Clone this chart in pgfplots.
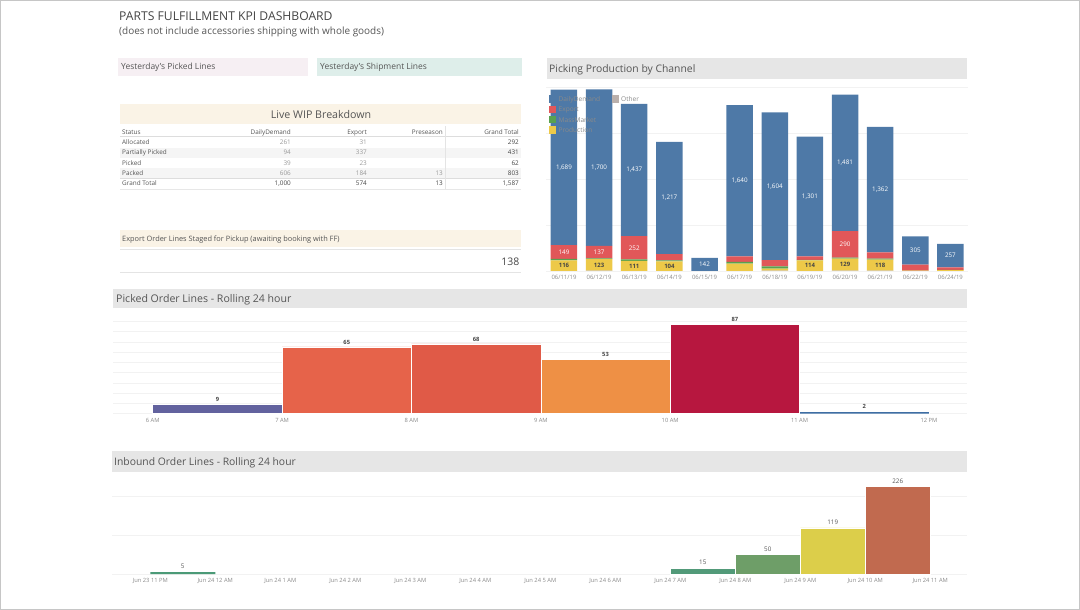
\documentclass[border=0pt]{standalone}
\usepackage{pgfplots}
\pgfplotsset{compat=1.18}
\usepackage{fontspec}
\setmainfont{Open Sans}
\definecolor{tabblue}{HTML}{4E79A7}
\definecolor{tabred}{HTML}{E15759}
\definecolor{tabgreen}{HTML}{59A14F}
\definecolor{tabyellow}{HTML}{EDC948}
\definecolor{tabgray}{HTML}{BAB0AC}
\definecolor{hdrgray}{HTML}{E6E6E6}
\definecolor{pinkbox}{HTML}{F6EFF3}
\definecolor{tealbox}{HTML}{DEEEEA}
\definecolor{beige}{HTML}{FAF3E6}
\definecolor{txtdark}{HTML}{444444}
\definecolor{txtmid}{HTML}{555555}
\definecolor{txtlight}{HTML}{999999}
\definecolor{ticktxt}{HTML}{8A8A8A}
\definecolor{gridc}{HTML}{F2F2F2}
\definecolor{rowgray}{HTML}{F5F5F5}
\definecolor{lineg}{HTML}{DDDDDD}
\definecolor{pA}{HTML}{62629E}
\definecolor{pB}{HTML}{E6634A}
\definecolor{pC}{HTML}{E05A47}
\definecolor{pD}{HTML}{EE9045}
\definecolor{pE}{HTML}{B7173F}
\definecolor{pF}{HTML}{3E6EA4}
\definecolor{iA}{HTML}{4B9A77}
\definecolor{iB}{HTML}{529A79}
\definecolor{iC}{HTML}{6E9E68}
\definecolor{iD}{HTML}{DCCE4A}
\definecolor{iE}{HTML}{C16A4F}
\newcommand\fs[1]{\fontsize{#1}{#1}\selectfont}
\tikzset{
  lw/.style={font=\fs{6.3}, text=white, inner sep=0},
  ly/.style={font=\bfseries\fs{6}, text=txtdark, inner sep=0},
  lp/.style={font=\bfseries\fs{5.8}, text=txtdark, inner sep=0, anchor=south, yshift=2.5bp},
  li/.style={font=\fs{6.3}, text=txtmid, inner sep=0, anchor=south, yshift=3bp},
  tb/.style={inner sep=0, font=\fs{6.4}},
}
\pgfplotsset{
  dash/.style={scale only axis, clip=false,
    axis line style={draw=none}, tick style={draw=none},
    major tick length=0pt, yticklabels={},
    ymajorgrids, grid style={draw=gridc, line width=0.5bp},
    xticklabel style={font=\fs{5.8}, text=ticktxt, yshift=-1.2bp}},
  pick/.style={at={(546.4bp,339bp)}, anchor=south west,
    width=421.6bp, height=188.8bp, scale only axis, clip=false,
    xmin=-0.5, xmax=11.5, ymin=0, ymax=2050}
}
\begin{document}
\begin{tikzpicture}
\path[use as bounding box] (0,0) rectangle (1080bp,610bp);
\begin{scope}[shift={(0,610bp)}, x=1bp, y=-1bp]
\draw[gray!45, line width=1bp] (0.5,0.5) rectangle (1079.5,609.5);
% titles
\node[anchor=base west, inner sep=0, text=txtdark, font=\fs{12.2}] at (119,20.3) {PARTS FULFILLMENT KPI DASHBOARD};
\node[anchor=base west, inner sep=0, text=txtmid, font=\fs{10}] at (119,35) {(does not include accessories shipping with whole goods)};
% yesterday boxes
\fill[pinkbox] (118,58) rectangle (308,76);
\fill[tealbox] (317,58) rectangle (522,76);
\node[anchor=base west, inner sep=0, text=txtmid, font=\fs{8.5}] at (121,70) {Yesterday’s Picked Lines};
\node[anchor=base west, inner sep=0, text=txtmid, font=\fs{8.5}] at (320,70) {Yesterday’s Shipment Lines};
% WIP table
\fill[beige] (120,104) rectangle (521,124);
\node[anchor=base, inner sep=0, text=txtmid, font=\fs{10.7}] at (321,119) {Live WIP Breakdown};
\fill[rowgray] (120,147.6) rectangle (521,157.8);
\fill[rowgray] (120,168) rectangle (521,178.4);
\draw[lineg, line width=0.6bp] (120,136.8) -- (521,136.8);
\draw[lineg, line width=0.6bp] (120,178.7) -- (521,178.7);
\draw[lineg!70, line width=0.5bp] (120,189) -- (521,189);
\draw[lineg!80, line width=0.5bp] (445.5,126) -- (445.5,189);
\node[tb, anchor=base west, text=txtmid] at (122,134.4) {Status};
\node[tb, anchor=base east, text=txtmid] at (291,134.4) {DailyDemand};
\node[tb, anchor=base east, text=txtmid] at (367,134.4) {Export};
\node[tb, anchor=base east, text=txtmid] at (443,134.4) {Preseason};
\node[tb, anchor=base east, text=txtmid] at (519,134.4) {Grand Total};
\node[tb, anchor=base west, text=txtmid] at (122,144.7) {Allocated};
\node[tb, anchor=base west, text=txtmid] at (122,155.0) {Partially Picked};
\node[tb, anchor=base west, text=txtmid] at (122,165.1) {Picked};
\node[tb, anchor=base west, text=txtmid] at (122,175.2) {Packed};
\node[tb, anchor=base west, text=txtmid] at (122,185.7) {Grand Total};
\node[tb, anchor=base east, text=txtlight] at (291,144.7) {261};
\node[tb, anchor=base east, text=txtlight] at (291,155.0) {94};
\node[tb, anchor=base east, text=txtlight] at (291,165.1) {39};
\node[tb, anchor=base east, text=txtlight] at (291,175.2) {606};
\node[tb, anchor=base east, text=txtdark] at (291,185.7) {1,000};
\node[tb, anchor=base east, text=txtlight] at (367,144.7) {31};
\node[tb, anchor=base east, text=txtlight] at (367,155.0) {337};
\node[tb, anchor=base east, text=txtlight] at (367,165.1) {23};
\node[tb, anchor=base east, text=txtlight] at (367,175.2) {184};
\node[tb, anchor=base east, text=txtdark] at (367,185.7) {574};
\node[tb, anchor=base east, text=txtlight] at (443,175.2) {13};
\node[tb, anchor=base east, text=txtdark] at (443,185.7) {13};
\node[tb, anchor=base east, text=txtdark] at (519,144.7) {292};
\node[tb, anchor=base east, text=txtdark] at (519,155.0) {431};
\node[tb, anchor=base east, text=txtdark] at (519,165.1) {62};
\node[tb, anchor=base east, text=txtdark] at (519,175.2) {803};
\node[tb, anchor=base east, text=txtdark] at (519,185.7) {1,587};
% export staged
\fill[beige] (120,230) rectangle (521,247.5);
\node[anchor=base west, inner sep=0, text=txtmid, font=\fs{7.4}] at (122,241.3) {Export Order Lines Staged for Pickup (awaiting booking with FF)};
\draw[lineg!80, line width=0.6bp] (120,249.8) -- (521,249.8);
\draw[lineg!80, line width=0.6bp] (120,272.2) -- (521,272.2);
\node[anchor=base east, inner sep=0, text=txtdark, font=\fs{10.5}] at (519.5,266) {138};
% section headers
\fill[hdrgray] (547,58) rectangle (967,79);
\node[anchor=base west, inner sep=0, text=txtmid, font=\fs{10.4}] at (549,72.7) {Picking Production by Channel};
\fill[hdrgray] (113,289) rectangle (967,308);
\node[anchor=base west, inner sep=0, text=txtmid, font=\fs{10.6}] at (116,302.7) {Picked Order Lines - Rolling 24 hour};
\fill[hdrgray] (112,451) rectangle (967,472);
\node[anchor=base west, inner sep=0, text=txtmid, font=\fs{10.4}] at (114,465.7) {Inbound Order Lines - Rolling 24 hour};
\end{scope}

% ---------- Picking production by channel ----------
\begin{axis}[dash, pick,
  ybar stacked, bar width=26.5bp,
  ytick={0,500,1000,1500,2000},
  xtick={0,...,11},
  xticklabels={06/11/19,06/12/19,06/13/19,06/14/19,06/15/19,06/17/19,06/18/19,06/19/19,06/20/19,06/21/19,06/22/19,06/24/19},
  xticklabel style={font=\fs{6}, yshift=0.5bp}]
\addplot[fill=tabgray, draw=none] coordinates {(0,0)(1,5)(2,0)(3,0)(4,0)(5,0)(6,5)(7,0)(8,5)(9,5)(10,0)(11,0)};
\addplot[fill=tabyellow, draw=none] coordinates {(0,116)(1,123)(2,111)(3,104)(4,0)(5,80)(6,20)(7,114)(8,129)(9,118)(10,3)(11,10)};
\addplot[fill=tabgreen, draw=none] coordinates {(0,15)(1,8)(2,15)(3,10)(4,0)(5,18)(6,25)(7,8)(8,10)(9,10)(10,2)(11,3)};
\addplot[fill=tabred, draw=none] coordinates {(0,149)(1,137)(2,252)(3,70)(4,0)(5,62)(6,69)(7,36)(8,290)(9,69)(10,65)(11,25)};
\addplot[fill=tabblue, draw=none] coordinates {(0,1689)(1,1700)(2,1437)(3,1217)(4,142)(5,1640)(6,1604)(7,1301)(8,1481)(9,1362)(10,305)(11,257)};
\end{axis}
% labels of the stacked bars (same geometry, drawn on top)
\begin{axis}[pick, hide axis]
\node[lw] at (axis cs:0,1124.5) {1,689};
\node[lw] at (axis cs:1,1123) {1,700};
\node[lw] at (axis cs:2,1096.5) {1,437};
\node[lw] at (axis cs:3,792.5) {1,217};
\node[lw] at (axis cs:4,71) {142};
\node[lw] at (axis cs:5,980) {1,640};
\node[lw] at (axis cs:6,921) {1,604};
\node[lw] at (axis cs:7,808.5) {1,301};
\node[lw] at (axis cs:8,1174.5) {1,481};
\node[lw] at (axis cs:9,883) {1,362};
\node[lw] at (axis cs:10,222.5) {305};
\node[lw] at (axis cs:11,166.5) {257};
\node[lw] at (axis cs:0,205.5) {149};
\node[lw] at (axis cs:1,204.5) {137};
\node[lw] at (axis cs:2,252) {252};
\node[lw] at (axis cs:8,289) {290};
\node[ly] at (axis cs:0,58) {116};
\node[ly] at (axis cs:1,66.5) {123};
\node[ly] at (axis cs:2,55.5) {111};
\node[ly] at (axis cs:3,52) {104};
\node[ly] at (axis cs:7,57) {114};
\node[ly] at (axis cs:8,69.5) {129};
\node[ly] at (axis cs:9,64) {118};
\end{axis}

% ---------- Picked order lines ----------
\begin{axis}[dash, at={(113bp,196.3bp)}, anchor=south west,
  width=854bp, height=102.7bp,
  xmin=5.693, xmax=12.294, ymin=0, ymax=100,
  ytick={0,10,...,90},
  xtick={6,...,12},
  xticklabels={6 AM,7 AM,8 AM,9 AM,10 AM,11 AM,12 PM}]
\addplot[fill=pA, draw=white, line width=0.6bp, mark=none] coordinates {(6,0)(6,9)(7,9)(7,0)} \closedcycle;
\addplot[fill=pB, draw=white, line width=0.6bp, mark=none] coordinates {(7,0)(7,65)(8,65)(8,0)} \closedcycle;
\addplot[fill=pC, draw=white, line width=0.6bp, mark=none] coordinates {(8,0)(8,68)(9,68)(9,0)} \closedcycle;
\addplot[fill=pD, draw=white, line width=0.6bp, mark=none] coordinates {(9,0)(9,53)(10,53)(10,0)} \closedcycle;
\addplot[fill=pE, draw=white, line width=0.6bp, mark=none] coordinates {(10,0)(10,87)(11,87)(11,0)} \closedcycle;
\addplot[fill=pF, draw=white, line width=0.3bp, mark=none] coordinates {(11,0)(11,2)(12,2)(12,0)} \closedcycle;
\node[lp] at (axis cs:6.5,9) {9};
\node[lp] at (axis cs:7.5,65) {65};
\node[lp] at (axis cs:8.5,68) {68};
\node[lp] at (axis cs:9.5,53) {53};
\node[lp] at (axis cs:10.5,87) {87};
\node[lp] at (axis cs:11.5,2) {2};
\end{axis}

% ---------- Inbound order lines ----------
\begin{axis}[dash, at={(112bp,36bp)}, anchor=south west,
  width=855bp, height=102bp,
  xmin=-1.589, xmax=11.565, ymin=0, ymax=262.9,
  ytick={0,100,200},
  xtick={-1,...,11},
  xticklabels={Jun 23 11 PM,Jun 24 12 AM,Jun 24 1 AM,Jun 24 2 AM,Jun 24 3 AM,Jun 24 4 AM,Jun 24 5 AM,Jun 24 6 AM,Jun 24 7 AM,Jun 24 8 AM,Jun 24 9 AM,Jun 24 10 AM,Jun 24 11 AM}]
\addplot[fill=iA, draw=none, mark=none] coordinates {(-1,0)(-1,5)(0,5)(0,0)} \closedcycle;
\addplot[fill=iB, draw=white, line width=0.6bp, mark=none] coordinates {(7,0)(7,15)(8,15)(8,0)} \closedcycle;
\addplot[fill=iC, draw=white, line width=0.6bp, mark=none] coordinates {(8,0)(8,50)(9,50)(9,0)} \closedcycle;
\addplot[fill=iD, draw=white, line width=0.6bp, mark=none] coordinates {(9,0)(9,119)(10,119)(10,0)} \closedcycle;
\addplot[fill=iE, draw=white, line width=0.6bp, mark=none] coordinates {(10,0)(10,226)(11,226)(11,0)} \closedcycle;
\node[li] at (axis cs:-0.5,5) {5};
\node[li] at (axis cs:7.5,15) {15};
\node[li] at (axis cs:8.5,50) {50};
\node[li] at (axis cs:9.5,119) {119};
\node[li] at (axis cs:10.5,226) {226};
\end{axis}

% legend (drawn over the bars)
\begin{scope}[shift={(0,610bp)}, x=1bp, y=-1bp]
\fill[tabblue] (548.5,95.5) rectangle (556,103);
\node[inner sep=0, font=\fs{6.6}, text=ticktxt, anchor=west] at (558.5,99.3) {DailyDemand};
\fill[tabgray] (611.5,95.5) rectangle (618.5,103);
\node[inner sep=0, font=\fs{6.6}, text=ticktxt, anchor=west] at (621,99.3) {Other};
\fill[tabred] (548.5,105.8) rectangle (556,113.2);
\node[inner sep=0, font=\fs{6.6}, text=ticktxt, anchor=west] at (558.5,109.6) {Export};
\fill[tabgreen] (548.5,116) rectangle (556,123.4);
\node[inner sep=0, font=\fs{6.6}, text=ticktxt, anchor=west] at (558.5,119.8) {MassMarket};
\fill[tabyellow] (548.5,126.3) rectangle (556,133.7);
\node[inner sep=0, font=\fs{6.6}, text=ticktxt, anchor=west] at (558.5,130.1) {Production};
\end{scope}
\end{tikzpicture}
\end{document}
